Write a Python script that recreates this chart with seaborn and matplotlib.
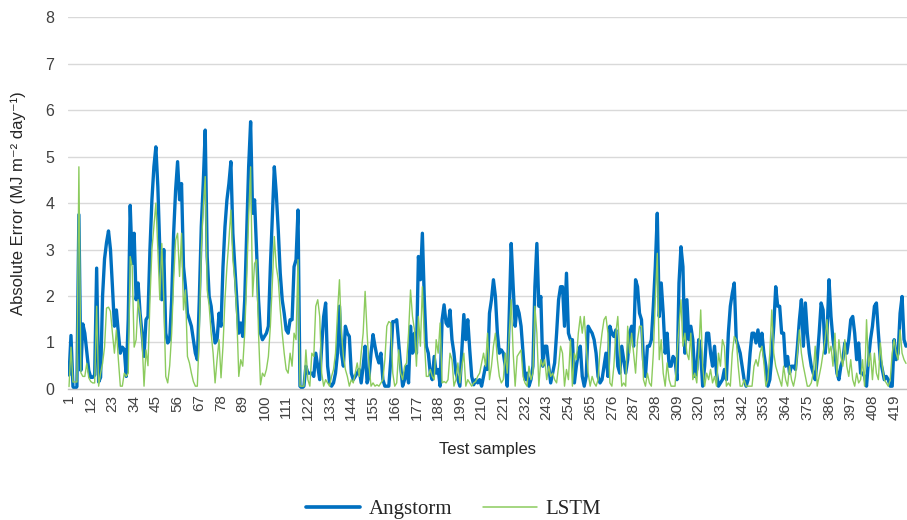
import matplotlib
matplotlib.use("Agg")
import matplotlib.pyplot as plt
from matplotlib.lines import Line2D
import pandas as pd
import seaborn as sns

# ---- data ----
angstorm = [
    # 1-34
    0.3, 1.15, 0.05, 0.0, 0.05, 3.75, 0.4, 1.4, 1.2, 0.8, 0.4, 0.25, 0.25, 0.3, 2.6, 0.15, 0.25,
    2.0, 2.8, 3.15, 3.4, 3.0, 2.2, 1.35, 1.7, 1.2, 0.77, 0.9, 0.85, 0.27, 1.5, 3.95, 2.7, 3.35,
    # 35-69
    1.92, 2.28, 1.63, 1.2, 0.7, 1.49, 1.56, 3.0, 4.07, 4.78, 5.21, 4.35, 3.0, 1.92, 3.0, 1.2, 0.99,
    1.06, 1.92, 3.35, 4.28, 4.89, 4.07, 4.42, 2.63, 2.2, 1.63, 1.49, 1.35, 1.06, 0.77, 0.63, 1.92,
    3.49, 4.42,
    # 70-105
    5.57, 2.85, 1.99, 1.78, 1.35, 0.99, 1.06, 1.63, 1.35, 2.63, 3.49, 4.07, 4.42, 4.89, 3.35, 2.63,
    1.92, 1.2, 1.42, 1.13, 1.92, 3.35, 4.78, 5.75, 3.78, 4.07, 3.0, 1.92, 1.2, 1.06, 1.13, 1.2, 1.35,
    2.63, 3.7, 4.78,
    # 106-140
    4.2, 3.42, 2.49, 1.92, 1.63, 1.27, 1.2, 1.49, 1.49, 2.63, 2.78, 3.85, 0.06, 0.02, 0.06, 0.49,
    0.34, 0.34, 0.34, 0.27, 0.77, 0.49, 0.2, 0.92, 1.56, 1.85, 0.49, 0.13, 0.06, 0.13, 0.34, 0.77,
    1.78, 0.77, 0.49,
    # 141-176
    1.35, 1.2, 1.13, 0.34, 0.2, 0.27, 0.34, 0.42, 0.13, 0.49, 0.92, 0.13, 0.27, 0.77, 1.17, 0.92,
    0.7, 0.56, 0.77, 0.2, 0.06, 0.06, 0.06, 0.63, 1.45, 1.45, 1.49, 0.99, 0.49, 0.06, 0.2, 0.49,
    0.13, 1.35, 0.77, 1.2,
    # 177-211
    0.77, 2.85, 2.35, 3.35, 1.92, 0.92, 0.77, 0.34, 0.2, 0.7, 0.34, 0.42, 0.06, 1.49, 1.81, 1.42,
    1.35, 1.7, 1.06, 0.77, 0.34, 0.2, 0.06, 0.84, 1.6, 1.06, 1.49, 0.84, 0.27, 0.09, 0.2, 0.13,
    0.2, 0.06, 0.27,
    # 212-246
    0.49, 0.42, 1.63, 1.92, 2.35, 1.99, 1.2, 0.77, 0.84, 0.77, 0.49, 0.06, 1.56, 3.13, 2.2, 1.35,
    1.78, 1.63, 1.35, 0.77, 0.2, 0.34, 0.06, 0.2, 0.49, 2.2, 3.13, 1.78, 1.99, 0.49, 0.92, 0.92,
    0.49, 0.13, 0.34,
    # 247-282
    0.56, 1.2, 1.92, 2.2, 2.2, 1.35, 2.49, 1.2, 1.06, 1.06, 0.13, 0.49, 0.77, 0.92, 0.27, 0.06,
    0.27, 1.35, 1.27, 1.2, 1.06, 0.77, 0.27, 0.13, 0.2, 0.49, 0.77, 0.27, 1.35, 1.2, 1.13, 1.27,
    0.49, 0.34, 0.92, 0.63,
    # 283-317
    0.34, 0.63, 1.2, 1.35, 0.92, 2.35, 2.2, 1.63, 1.49, 0.63, 0.27, 0.92, 0.92, 1.06, 1.78, 2.63,
    3.78, 1.56, 2.28, 1.63, 0.77, 1.2, 0.49, 0.49, 0.7, 0.63, 0.2, 2.28, 3.06, 2.63, 0.77, 1.92,
    1.06, 1.35, 1.06,
    # 318-353
    0.27, 0.42, 1.06, 0.77, 0.06, 0.49, 1.2, 1.2, 0.77, 0.49, 0.92, 0.34, 0.06, 0.13, 0.2, 0.42,
    0.2, 1.2, 1.78, 2.06, 2.28, 1.06, 0.92, 0.77, 0.49, 0.2, 0.06, 0.2, 0.77, 1.2, 1.2, 0.99, 1.27,
    0.92, 1.2, 0.77,
    # 354-388
    0.49, 0.06, 0.2, 0.7, 1.35, 2.2, 1.78, 1.78, 1.2, 1.2, 0.49, 0.7, 0.34, 0.49, 0.49, 0.42, 0.92,
    1.49, 1.92, 0.92, 1.85, 1.2, 0.77, 0.49, 0.34, 0.2, 0.63, 1.2, 1.85, 1.7, 0.77, 1.2, 2.35, 1.56,
    1.06,
    # 389-425
    0.77, 0.34, 0.2, 0.49, 0.63, 0.99, 0.77, 1.06, 1.49, 1.56, 1.2, 0.63, 0.99, 0.34, 0.34, 0.27,
    0.06, 0.63, 1.06, 1.35, 1.78, 1.85, 1.2, 0.63, 0.42, 0.2, 0.27, 0.2, 0.06, 0.06, 1.06, 0.63,
    0.77, 1.63, 1.99, 1.06, 0.92,
]

lstm = [
    # 1-34
    0.05, 0.9, 0.15, 0.15, 0.15, 4.78, 0.35, 0.27, 0.27, 0.55, 0.24, 0.16, 0.13, 0.13, 1.78, 0.06,
    0.34, 0.55, 0.9, 1.74, 1.76, 1.67, 1.2, 0.77, 1.27, 0.63, 0.06, 0.06, 0.34, 0.27, 0.34, 2.85,
    2.63, 0.9,
    # 35-69
    1.06, 1.92, 1.63, 1.06, 0.06, 0.84, 0.5, 1.9, 3.0, 3.5, 4.0, 3.0, 1.92, 3.13, 1.92, 0.27, 0.13,
    0.5, 1.2, 2.35, 3.2, 3.35, 2.42, 3.35, 1.7, 2.13, 0.7, 0.56, 0.34, 0.16, 0.06, 0.06, 1.2, 3.0,
    3.9,
    # 70-105
    4.57, 2.13, 1.78, 1.2, 0.77, 0.13, 0.63, 1.06, 0.24, 0.92, 1.92, 2.63, 3.2, 3.85, 2.78, 2.35,
    1.56, 0.27, 0.63, 0.49, 1.2, 2.35, 3.7, 4.78, 1.99, 2.7, 2.78, 1.2, 0.09, 0.34, 0.27, 0.42, 0.7,
    1.35, 2.28, 3.28,
    # 106-140
    2.63, 2.35, 1.7, 1.2, 0.77, 0.42, 0.34, 0.77, 0.49, 1.2, 1.06, 2.78, 0.06, 0.06, 0.06, 0.84,
    0.2, 0.06, 0.77, 0.7, 1.78, 1.92, 1.56, 0.34, 0.06, 0.2, 0.13, 0.06, 0.27, 0.42, 0.77, 1.63,
    2.35, 1.2, 0.7,
    # 141-176
    0.42, 0.27, 0.06, 0.2, 0.13, 0.34, 0.56, 0.27, 0.77, 1.2, 2.1, 1.2, 0.49, 0.06, 0.13, 0.06,
    0.09, 0.06, 0.13, 0.2, 0.63, 1.35, 1.45, 1.42, 0.34, 0.06, 0.13, 0.84, 0.34, 0.2, 0.49, 0.56,
    1.2, 2.13, 1.56, 1.27,
    # 177-211
    0.49, 1.56, 0.92, 2.2, 1.06, 0.27, 0.27, 0.42, 0.27, 0.2, 1.06, 0.77, 1.42, 0.13, 0.16, 0.13,
    0.2, 0.77, 0.63, 0.06, 0.2, 0.56, 0.13, 0.49, 0.77, 0.06, 0.2, 0.13, 0.06, 0.13, 0.16, 0.27,
    0.34, 0.56, 0.77,
    # 212-246
    0.49, 1.2, 0.2, 0.49, 0.92, 1.2, 0.63, 0.27, 0.13, 0.2, 0.77, 0.34, 1.2, 1.92, 0.77, 0.06, 0.7,
    0.77, 0.84, 0.27, 0.13, 0.06, 0.49, 0.2, 0.34, 1.78, 1.2, 0.06, 0.63, 0.49, 0.63, 0.2, 0.49,
    0.27, 0.34,
    # 247-282
    0.2, 0.13, 0.49, 0.92, 0.77, 0.06, 0.42, 0.2, 1.06, 0.06, 0.77, 0.63, 1.2, 1.56, 1.2, 1.56,
    0.92, 0.34, 0.06, 0.27, 0.13, 0.06, 0.2, 0.84, 1.2, 1.49, 1.56, 1.2, 0.13, 0.06, 0.49, 1.2,
    1.56, 0.77, 0.06, 0.13,
    # 283-317
    0.06, 1.35, 0.77, 1.2, 0.77, 0.34, 1.06, 1.35, 1.35, 0.2, 0.06, 0.34, 0.13, 0.06, 0.77, 1.92,
    2.92, 0.63, 1.06, 0.34, 0.06, 0.56, 0.2, 0.06, 0.06, 0.06, 0.77, 1.35, 1.92, 0.92, 1.2, 0.77,
    0.63, 1.2, 0.2,
    # 318-353
    0.34, 0.13, 0.77, 1.7, 0.49, 0.06, 0.34, 0.2, 0.42, 0.13, 0.27, 0.06, 0.77, 0.49, 1.06, 0.92,
    0.06, 0.13, 0.06, 0.77, 1.13, 1.06, 0.49, 0.06, 0.06, 0.2, 0.06, 0.06, 0.06, 0.06, 0.49, 0.63,
    0.49, 0.77, 0.92, 0.56,
    # 354-388
    0.06, 0.2, 0.77, 1.7, 0.77, 0.49, 0.34, 0.2, 0.06, 0.49, 0.2, 0.06, 0.49, 0.2, 0.06, 0.27, 0.77,
    1.27, 0.77, 0.49, 0.27, 0.06, 0.06, 0.13, 0.34, 0.92, 0.06, 0.27, 0.49, 0.77, 1.06, 1.49, 0.77,
    0.92, 0.49,
    # 389-425
    1.2, 0.27, 1.06, 0.7, 0.49, 1.06, 0.49, 0.27, 0.63, 0.2, 0.06, 0.34, 0.13, 0.2, 0.63, 0.06,
    1.49, 0.49, 0.77, 0.2, 0.77, 0.34, 0.2, 0.99, 0.49, 0.2, 0.13, 0.06, 0.2, 0.77, 1.06, 0.77,
    0.63, 1.27, 0.77, 0.63, 0.55,
]

series_names = ["Angstorm", "LSTM"]
series_colors = ["#0070C0", "#8CCB5E"]
series_widths = [2.4, 1.0]
y_ticks = [0, 1, 2, 3, 4, 5, 6, 7, 8]

n = min(len(angstorm), len(lstm))
samples = list(range(1, n + 1))
x_ticks = list(range(1, n + 1, 11))

df = pd.DataFrame({
    "Sample": samples * 2,
    "Error": angstorm[:n] + lstm[:n],
    "Model": [series_names[0]] * n + [series_names[1]] * n,
})

sns.set_theme(style="white")
plt.rcParams["font.family"] = ["Liberation Sans", "DejaVu Sans"]

fig = plt.figure(figsize=(9.07, 5.2), dpi=100)
ax = fig.add_axes([0.075, 0.252, 0.925, 0.715])

sns.lineplot(
    data=df, x="Sample", y="Error", hue="Model", size="Model",
    hue_order=series_names,
    palette=dict(zip(series_names, series_colors)),
    sizes=dict(zip(series_names, series_widths)),
    ax=ax, legend=False, estimator=None,
)

ax.set_xlim(0.5, n + 0.5)
ax.set_ylim(0, 8)
ax.set_yticks(y_ticks)
ax.set_yticklabels([str(t) for t in y_ticks], fontsize=11.5, color="#404040")
ax.set_xticks(x_ticks)
ax.set_xticklabels([str(t) for t in x_ticks], rotation=90, fontsize=11, color="#404040")
ax.tick_params(axis="y", length=0, pad=10)
ax.tick_params(axis="x", length=0, pad=4)
ax.yaxis.grid(True, color="#d9d9d9", linewidth=1.0)
ax.xaxis.grid(False)
for s in ["top", "right", "left"]:
    ax.spines[s].set_visible(False)
ax.spines["bottom"].set_color("#bfbfbf")
ax.spines["bottom"].set_linewidth(1.0)
ax.set_axisbelow(True)

ax.set_xlabel("Test samples", fontsize=12, color="#262626", labelpad=16)
ax.set_ylabel("Absolute Error (MJ m\u207b\u00b2 day\u207b\u00b9)", fontsize=12, color="#262626", labelpad=14)

handles = [Line2D([0], [0], color=c, lw=w * 1.1) for c, w in zip(series_colors, series_widths)]
fig.legend(handles, series_names, loc="lower center", bbox_to_anchor=(0.5, -0.035), ncol=2,
           frameon=False, prop={"family": ["Liberation Serif", "DejaVu Serif"], "size": 15},
           handlelength=2.6, columnspacing=1.5, handletextpad=0.4)

fig.savefig("out.png", dpi=100)
